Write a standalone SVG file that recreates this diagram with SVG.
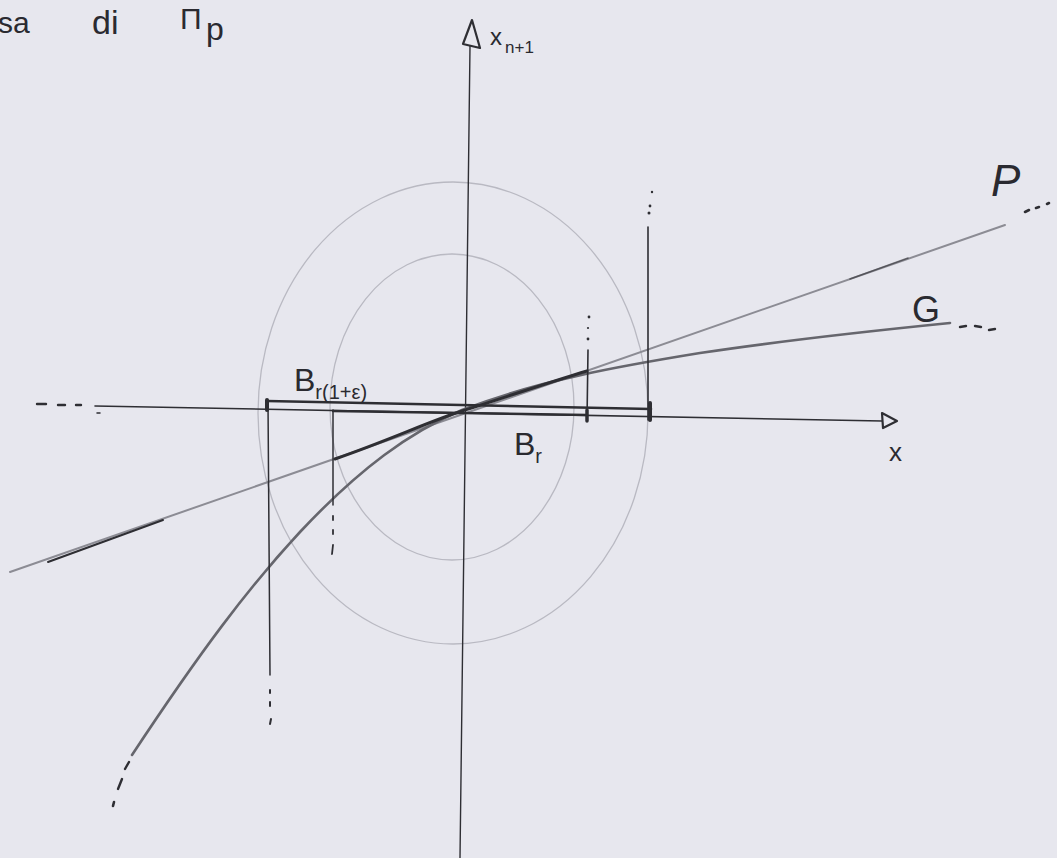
<svg xmlns="http://www.w3.org/2000/svg" width="1057" height="858" viewBox="0 0 1057 858">
<style>
.bg{fill:#e7e7ee}
.ink{stroke:#2e2e33;fill:none;stroke-linecap:round;stroke-linejoin:round}
.faint{stroke:#b9b9c2;fill:none;stroke-width:1.3}
.pl{stroke:#8c8c94;fill:none;stroke-width:2;stroke-linecap:round}
.gl{stroke:#66666d;fill:none;stroke-width:2.6;stroke-linecap:round}
.t{font-family:"Liberation Sans","DejaVu Sans",sans-serif;fill:#2a2a30}
.dot{fill:#2e2e33}
</style>
<rect class="bg" x="0" y="0" width="1057" height="858"/>

<g id="balls">
  <ellipse class="faint" cx="453" cy="413" rx="195" ry="231"/>
  <ellipse class="faint" cx="452" cy="407" rx="122" ry="153"/>
</g>

<g id="connectors">
  <g id="axis-y">
    <line class="ink" x1="470" y1="46" x2="460" y2="858" stroke-width="1.4"/>
    <polygon class="ink" points="472,20 463,44 480,48" stroke-width="2.2"/>
  </g>
  <g id="axis-x">
    <line class="ink" x1="95" y1="406" x2="882" y2="421" stroke-width="1.6"/>
    <line class="ink" x1="37" y1="404" x2="46" y2="404" stroke-width="2.4"/>
    <line class="ink" x1="58" y1="405" x2="65" y2="405" stroke-width="2.4"/>
    <line class="ink" x1="76" y1="405" x2="81" y2="405" stroke-width="2.4"/>
    <line class="ink" x1="97" y1="413" x2="100" y2="413" stroke-width="1.5"/>
    <polygon class="ink" points="882,413 897,421 883,428" stroke-width="2.2"/>
  </g>
  <g id="plane-P">
    <line class="pl" x1="10" y1="572" x2="1005" y2="225"/>
    <line class="ink" x1="48" y1="562" x2="163" y2="520" stroke-width="2"/>
    <line class="ink" x1="850" y1="279" x2="908" y2="258" stroke-width="1.6" opacity="0.6"/>
    <line class="ink" x1="1025" y1="212" x2="1029" y2="210" stroke-width="2.6"/>
    <line class="ink" x1="1036" y1="208" x2="1039" y2="207" stroke-width="2.6"/>
    <line class="ink" x1="1047" y1="204" x2="1049" y2="203" stroke-width="2.6"/>
  </g>
  <g id="graph-G">
    <path class="gl" d="M132,755 C200,652 248,588 300,532 C360,468 410,432 462,410 C540,380 620,366 700,353 C800,338 880,330 950,323"/>
    <line class="ink" x1="960" y1="327" x2="966" y2="326" stroke-width="2.4"/>
    <line class="ink" x1="975" y1="326" x2="981" y2="327" stroke-width="2.4"/>
    <line class="ink" x1="989" y1="330" x2="995" y2="329" stroke-width="2.4"/>
    <line class="ink" x1="129" y1="762" x2="125" y2="769" stroke-width="2.4"/>
    <line class="ink" x1="122" y1="779" x2="118" y2="789" stroke-width="2.4"/>
    <line class="ink" x1="114" y1="802" x2="113" y2="806" stroke-width="2.6"/>
  </g>
  <path id="graph-over-Br" class="ink" d="M335,459 C390,440 430,421 462,411 S550,382 587,371" stroke-width="3"/>
  <g id="bar-Br1e">
    <line class="ink" x1="267" y1="401" x2="651" y2="409" stroke-width="2.6"/>
    <line class="ink" x1="267" y1="400" x2="267" y2="410" stroke-width="4"/>
    <line class="ink" x1="650" y1="403" x2="650" y2="420" stroke-width="4"/>
  </g>
  <g id="bar-Br">
    <line class="ink" x1="333" y1="411" x2="587" y2="415" stroke-width="2.4"/>
    <line class="ink" x1="587" y1="410" x2="587" y2="421" stroke-width="3.5"/>
  </g>
  <g id="verticals">
    <line class="ink" x1="268" y1="402" x2="270" y2="675" stroke-width="1.5"/>
    <line class="ink" x1="270" y1="690" x2="270" y2="693" stroke-width="2"/>
    <line class="ink" x1="270" y1="702" x2="270" y2="706" stroke-width="2"/>
    <line class="ink" x1="271" y1="719" x2="270" y2="724" stroke-width="2"/>

    <line class="ink" x1="333" y1="410" x2="333" y2="505" stroke-width="1.5"/>
    <line class="ink" x1="333" y1="516" x2="333" y2="520" stroke-width="1.8"/>
    <line class="ink" x1="333" y1="530" x2="333" y2="534" stroke-width="1.8"/>
    <line class="ink" x1="333" y1="545" x2="332" y2="554" stroke-width="1.8"/>

    <line class="ink" x1="588" y1="350" x2="587" y2="420" stroke-width="1.6"/>
    <circle class="dot" cx="589" cy="317" r="1.4"/>
    <circle class="dot" cx="588" cy="328" r="1.1"/>
    <circle class="dot" cx="588" cy="339" r="1.4"/>

    <line class="ink" x1="648" y1="227" x2="648" y2="420" stroke-width="1.6"/>
    <circle class="dot" cx="652" cy="192" r="1.2"/>
    <circle class="dot" cx="650" cy="206" r="1.4"/>
    <circle class="dot" cx="649" cy="213" r="1.5"/>
  </g>
</g>

<g id="labels">
  <g id="label-top">
    <text class="t" x="-2" y="33" font-size="30">sa</text>
    <text class="t" x="92" y="34" font-size="34">di</text>
    <text class="t" x="180" y="29" font-size="30">Π</text>
    <text class="t" x="206" y="40" font-size="32">p</text>
  </g>
  <text id="label-xn1" class="t" x="490" y="45" font-size="24">x<tspan font-size="17" dx="3" dy="8">n+1</tspan></text>
  <text id="label-x" class="t" x="889" y="461" font-size="26">x</text>
  <text id="label-P" class="t" x="991" y="196" font-size="44" font-style="italic">P</text>
  <text id="label-G" class="t" x="912" y="322" font-size="36">G</text>
  <text id="label-Br1e" class="t" x="294" y="391" font-size="32">B<tspan font-size="20" dy="8">r(1+ε)</tspan></text>
  <text id="label-Br" class="t" x="514" y="455" font-size="32">B<tspan font-size="20" dy="8">r</tspan></text>
</g>
</svg>
